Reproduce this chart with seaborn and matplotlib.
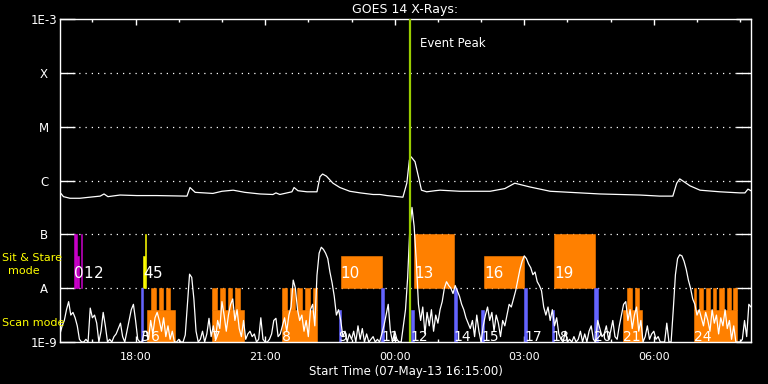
import numpy as np
import pandas as pd
import matplotlib
matplotlib.use("Agg")
import matplotlib.pyplot as plt
import matplotlib.dates as mdates
from matplotlib.ticker import NullLocator
import seaborn as sns

START = pd.Timestamp("2013-05-07 16:15")
SPAN_HOURS = 16

# GOES long channel: hours after start, log10 flux (W/m^2)
long_hr = [0.02, 0.08, 0.23, 0.46, 0.69, 0.93, 1.02, 1.11, 1.39, 1.78, 2.24, 2.94,
           3.01, 3.13, 3.54, 3.75, 4.01, 4.28, 4.63, 4.93, 5.00, 5.09, 5.37, 5.42,
           5.51, 5.72, 5.95, 6.02, 6.08, 6.17, 6.32, 6.48, 6.71, 6.95, 7.25, 7.41,
           7.57, 7.94, 8.03, 8.09, 8.13, 8.22, 8.30, 8.37, 8.49, 8.68, 8.80, 9.26,
           9.96, 10.30, 10.53, 10.88, 11.35, 12.04, 12.50, 13.43, 13.89, 14.19, 14.28,
           14.35, 14.59, 14.82, 15.28, 15.74, 15.86, 15.93, 16.0]
long_log = [-6.24, -6.30, -6.33, -6.33, -6.31, -6.29, -6.25, -6.30, -6.27, -6.28, -6.28, -6.29,
            -6.13, -6.22, -6.24, -6.20, -6.18, -6.22, -6.25, -6.26, -6.23, -6.26, -6.21, -6.13,
            -6.19, -6.21, -6.21, -5.93, -5.88, -5.92, -6.05, -6.13, -6.20, -6.23, -6.26, -6.26,
            -6.28, -6.31, -6.05, -5.62, -5.56, -5.65, -5.93, -6.18, -6.21, -6.19, -6.18, -6.20,
            -6.20, -6.15, -6.05, -6.12, -6.20, -6.23, -6.25, -6.27, -6.29, -6.29, -6.05,
            -5.97, -6.10, -6.18, -6.21, -6.23, -6.23, -6.16, -6.19]

# GOES short channel, 3-minute cadence from 16:15, log10 flux
short_log = [
    -8.85, -8.7, -8.6, -8.4, -8.25, -8.5, -8.45, -8.55, -8.7, -8.95, -9.0, -9.0, -8.95, -9.0, -8.37, -8.55, -8.5, -8.65, -9.0, -8.8,
    -8.45, -8.7, -9.0, -8.95, -9.0, -8.9, -8.85, -8.75, -8.65, -8.9, -9.0, -8.8, -8.6, -8.4, -8.3, -8.6, -8.95, -9.0, -9.0, -8.8,
    -8.8, -8.95, -8.6, -8.85, -8.55, -8.45, -8.6, -8.8, -8.55, -8.9, -8.7, -8.95, -8.8, -9.0, -9.0, -8.95, -9.0, -9.0, -8.87, -8.3,
    -7.74, -7.8, -8.2, -8.8, -9.0, -8.95, -8.8, -9.0, -8.85, -8.56, -8.9, -8.7, -8.95, -8.6, -8.75, -8.25, -8.5, -8.8, -8.5, -8.3,
    -8.2, -8.6, -8.4, -8.75, -8.9, -8.6, -8.95, -8.85, -8.8, -8.9, -8.85, -9.0, -8.95, -8.55, -8.95, -9.0, -9.0, -8.95, -8.85, -8.6,
    -8.56, -8.9, -8.85, -8.7, -8.55, -8.8, -8.5, -8.35, -7.85, -8.0, -8.4, -8.6, -8.5, -8.8, -8.6, -8.9, -8.4, -8.3, -8.7, -7.76,
    -7.35, -7.24, -7.28, -7.35, -7.45, -7.7, -7.9, -8.15, -8.5, -8.4, -8.6, -8.9, -8.8, -9.0, -8.85, -8.95, -8.8, -9.0, -8.7, -8.95,
    -8.75, -9.0, -8.85, -9.0, -8.95, -8.9, -9.0, -8.95, -9.0, -8.85, -8.7, -8.5, -8.3, -8.8, -9.0, -8.8, -8.95, -9.0, -9.0, -8.7,
    -8.4, -7.8, -6.9, -6.5, -6.85, -7.5, -8.3, -8.6, -8.35, -8.85, -8.45, -8.7, -8.4, -8.8, -8.5, -8.65, -8.4, -8.25, -8.0, -7.88,
    -7.95, -8.0, -8.1, -7.95, -8.05, -8.15, -8.3, -8.4, -8.55, -8.65, -8.75, -8.6, -8.9, -8.5, -8.8, -9.0, -8.7, -8.5, -8.35, -8.6,
    -8.45, -8.8, -8.5, -8.65, -8.9, -8.6, -8.7, -8.5, -8.3, -8.35, -8.2, -8.05, -7.85, -7.65, -7.5, -7.4, -7.45, -7.55, -7.62, -7.75,
    -7.7, -7.88, -7.95, -8.05, -8.35, -8.5, -8.35, -8.6, -8.4, -8.7, -8.55, -8.85, -8.95, -9.0, -8.8, -9.0, -8.95, -9.0, -8.9, -9.0,
    -8.95, -8.8, -9.0, -8.85, -9.0, -8.8, -8.7, -8.95, -9.0, -8.6, -8.75, -8.9, -8.85, -8.7, -8.95, -8.8, -8.6, -8.9, -8.95, -8.7,
    -8.5, -8.3, -8.25, -8.6, -8.4, -8.75, -8.5, -8.35, -8.8, -8.6, -9.0, -8.9, -8.7, -8.95, -8.85, -8.8, -8.95, -8.9, -9.0, -9.0,
    -9.0, -8.65, -9.0, -9.0, -8.4, -7.75, -7.45, -7.38, -7.4, -7.5, -7.65, -7.85, -8.0, -8.2, -8.3, -8.5, -8.4, -8.55, -8.7, -8.45,
    -8.6, -8.8, -8.4, -8.65, -8.5, -8.85, -8.55, -8.7, -8.4, -8.75, -8.6, -8.95, -8.7, -9.0, -9.0, -9.0, -8.95, -8.6, -8.9, -8.3,
    -8.35,
]

# observation blocks (sit & stare above A, scan mode below A)
obs_start = ["16:34", "16:39", "16:44", "18:10", "18:13",
             "22:45", "00:27", "02:04", "03:42",
             "18:08", "22:42", "23:41", "00:22", "01:22", "02:00", "03:00", "03:38", "04:37",
             "18:16", "18:21", "18:32", "18:42",
             "19:46", "19:46", "19:57", "20:08", "20:18",
             "21:23", "21:23", "21:34", "21:44", "21:55", "22:06",
             "05:17", "05:23", "05:34",
             "06:56", "06:56", "07:03", "07:12", "07:22", "07:31", "07:41", "07:50"]
obs_end = ["16:39", "16:42", "16:45", "18:13", "18:14",
           "23:42", "01:23", "03:00", "04:38",
           "18:11", "22:46", "23:45", "00:27", "01:26", "02:04", "03:04", "03:42", "04:42",
           "18:55", "18:28", "18:38", "18:48",
           "20:31", "19:53", "20:04", "20:14", "20:25",
           "22:12", "21:30", "21:41", "21:51", "22:02", "22:12",
           "05:44", "05:29", "05:40",
           "07:56", "06:59", "07:09", "07:18", "07:27", "07:37", "07:47", "07:56"]
obs_lo = [1e-8, 1e-8, 1e-8, 1e-8, 1e-8,
          1e-8, 1e-8, 1e-8, 1e-8,
          1e-9, 1e-9, 1e-9, 1e-9, 1e-9, 1e-9, 1e-9, 1e-9, 1e-9,
          1e-9, 4e-9, 4e-9, 4e-9,
          1e-9, 4e-9, 4e-9, 4e-9, 4e-9,
          1e-9, 4e-9, 4e-9, 4e-9, 4e-9, 4e-9,
          1e-9, 4e-9, 4e-9,
          1e-9, 4e-9, 4e-9, 4e-9, 4e-9, 4e-9, 4e-9, 4e-9]
obs_hi = [1e-7, 4e-8, 1e-7, 4e-8, 1e-7,
          4e-8, 1e-7, 4e-8, 1e-7,
          1e-8, 4e-9, 1e-8, 4e-9, 1e-8, 4e-9, 1e-8, 4e-9, 1e-8,
          4e-9, 1e-8, 1e-8, 1e-8,
          4e-9, 1e-8, 1e-8, 1e-8, 1e-8,
          4e-9, 1e-8, 1e-8, 1e-8, 1e-8, 1e-8,
          4e-9, 1e-8, 1e-8,
          4e-9, 1e-8, 1e-8, 1e-8, 1e-8, 1e-8, 1e-8, 1e-8]
obs_kind = ["m", "m", "m", "y", "y",
            "o", "o", "o", "o",
            "b", "b", "b", "b", "b", "b", "b", "b", "b"] + ["o"] * 26

kind_colors = {"m": "#c800c8", "y": "#ffff00", "o": "#ff8000", "b": "#6464ff"}

label_text = ["0", "1", "2", "3", "4", "5", "6", "7", "8", "9", "10", "11", "12",
              "13", "14", "15", "16", "17", "18", "19", "20", "21", "24"]
label_time = ["16:34", "16:39", "16:44", "18:08", "18:10", "18:13", "18:16", "19:46",
              "21:23", "22:42", "22:45", "23:41", "00:22", "00:27", "01:22", "02:00",
              "02:04", "03:00", "03:38", "03:42", "04:37", "05:17", "06:56"]
label_mode = ["ss", "ss", "ss", "scan", "ss", "ss", "scan", "scan", "scan", "scan",
              "ss", "scan", "scan", "ss", "scan", "scan", "ss", "scan", "scan", "ss",
              "scan", "scan", "scan"]

peak_time = "00:21"
level_names = ["1E-3", "X", "M", "C", "B", "A", "1E-9"]
level_flux = [1e-3, 1e-4, 1e-5, 1e-6, 1e-7, 1e-8, 1e-9]


def clock(s):
    t = pd.Timestamp(f"2013-05-07 {s}")
    if t.hour < 16:
        t += pd.Timedelta(days=1)
    return t


sns.set_theme(style="dark", rc={
    "figure.facecolor": "black", "axes.facecolor": "black",
    "axes.edgecolor": "white", "text.color": "white",
    "xtick.color": "white", "ytick.color": "white",
    "axes.labelcolor": "white", "axes.grid": False,
})
plt.rcParams["font.family"] = ["DejaVu Sans"]

fig = plt.figure(figsize=(7.68, 3.84), dpi=100)
ax = fig.add_axes([60 / 768, 1 - 342 / 384, 691 / 768, 323 / 384])

# observation blocks
for s, e, lo, hi, k in zip(obs_start, obs_end, obs_lo, obs_hi, obs_kind):
    t0, t1 = clock(s), clock(e)
    ax.bar(t0.to_pydatetime(), hi - lo, bottom=lo, width=(t1 - t0).to_pytimedelta(),
           align="edge", color=kind_colors[k], edgecolor=kind_colors[k], linewidth=0.4,
           zorder=2)

long_df = pd.DataFrame({
    "time": [START + pd.Timedelta(hours=h) for h in long_hr],
    "flux": 10.0 ** np.array(long_log),
})
short_df = pd.DataFrame({
    "time": pd.date_range(START, periods=len(short_log), freq="3min"),
    "flux": 10.0 ** np.array(short_log),
})
sns.lineplot(data=long_df, x="time", y="flux", ax=ax, color="white", lw=0.9,
             estimator=None, sort=False, zorder=3)
sns.lineplot(data=short_df, x="time", y="flux", ax=ax, color="white", lw=0.9,
             estimator=None, sort=False, zorder=3)

ax.axvline(clock(peak_time), color="#99cc00", lw=1.6, zorder=4)
ax.annotate("Event Peak", xy=(clock(peak_time), 1), xycoords=("data", "axes fraction"),
            xytext=(7.5, -17.5), textcoords="offset points", va="center",
            fontsize=8.5, color="white")

ax.set_yscale("log")
ax.set_ylim(1e-9, 1e-3)
ax.set_xlim(START, START + pd.Timedelta(hours=SPAN_HOURS))

# observation numbers
labels = {"ss": [], "scan": []}
for txt, t, mode in zip(label_text, label_time, label_mode):
    y = 1.55e-8 if mode == "ss" else 1.05e-9
    fs = 11 if mode == "ss" else 10
    a = ax.annotate(txt, xy=(clock(t), y), xytext=(0, 0), textcoords="offset points",
                    color="white", fontsize=fs, ha="left", va="baseline", zorder=5)
    labels[mode].append(a)

# nudge labels that would sit on top of each other
fig.canvas.draw()
renderer = fig.canvas.get_renderer()
for mode, items in labels.items():
    right = -np.inf
    for a in items:
        bb = a.get_window_extent(renderer)
        shift = max(0.0, right + 0.5 - bb.x0)
        if shift > 0:
            a.xyann = (shift * 72 / fig.dpi, 0)
        right = bb.x1 + shift

for f in level_flux[1:-1]:
    ax.axhline(f, color="white", lw=0.9, linestyle=(0, (1, 4)), zorder=1)

ax.set_yticks(level_flux, labels=level_names)
ax.yaxis.set_minor_locator(NullLocator())
ax.tick_params(axis="y", which="major", direction="in", left=True, right=True,
               length=10.5, width=1, pad=11.5, labelsize=8.5, colors="white")
for lbl in ax.get_yticklabels():
    lbl.set_horizontalalignment("center")

ax.xaxis.set_major_locator(mdates.HourLocator(byhour=range(0, 24, 3)))
ax.xaxis.set_minor_locator(mdates.HourLocator())
ax.xaxis.set_major_formatter(mdates.DateFormatter("%H:%M"))
ax.tick_params(axis="x", which="major", direction="in", top=True, bottom=True,
               length=4.5, width=1, pad=7, labelsize=8, colors="white")
ax.tick_params(axis="x", which="minor", direction="in", top=True, bottom=True,
               length=2.2, width=1, colors="white")

for sp in ax.spines.values():
    sp.set_color("white")
    sp.set_linewidth(1)
    sp.set_visible(True)

ax.set_title("GOES 14 X-Rays:", fontsize=9, color="white", pad=4)
ax.set_xlabel("Start Time (07-May-13 16:15:00)", fontsize=8.5, color="white", labelpad=2)
ax.set_ylabel("")

fig.text(2 / 768, 1 - 258 / 384, "Sit & Stare", color="#ffff00", fontsize=8,
         ha="left", va="center")
fig.text(24 / 768, 1 - 271 / 384, "mode", color="#ffff00", fontsize=8,
         ha="center", va="center")
fig.text(2 / 768, 1 - 323.5 / 384, "Scan mode", color="#ffff00", fontsize=8,
         ha="left", va="center")

fig.savefig("out.png", dpi=100, facecolor="black")
